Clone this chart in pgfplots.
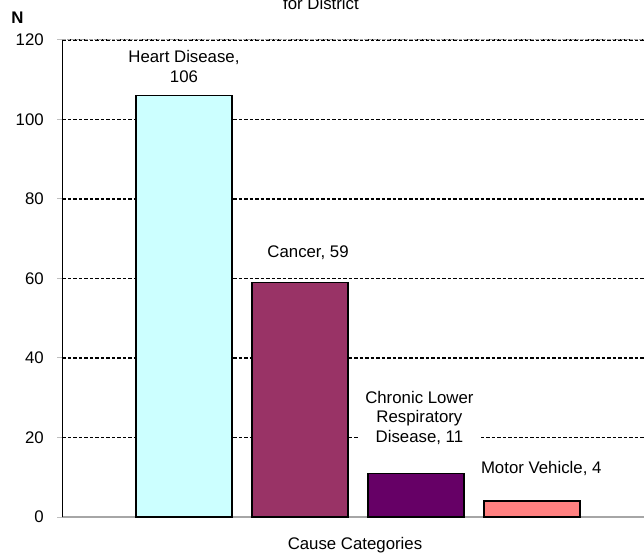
\documentclass[border=0pt]{standalone}
\usepackage{pgfplots}
\pgfplotsset{compat=1.18}
\usepackage{fontspec}
\setmainfont{Liberation Sans}
\definecolor{c1}{RGB}{204,255,255}
\definecolor{c2}{RGB}{153,51,102}
\definecolor{c3}{RGB}{102,0,102}
\definecolor{c4}{RGB}{255,128,128}
\newcommand{\lf}{\fontsize{16.8bp}{19.5bp}\selectfont}
\begin{document}
\lf
\begin{tikzpicture}
\begin{axis}[name=ax, at={(0,0)}, anchor=south west,
  scale only axis, width=581.5bp, height=477bp,
  xmin=-1.047, xmax=3.966, ymin=0, ymax=120,
  ytick={0,20,...,120}, xtick=\empty,
  axis lines*=left,
  x axis line style={draw=gray!70, line width=2bp},
  y axis line style={draw=black, line width=1.3bp},
  ymajorgrids, major grid style={black, line width=1.2bp, dash pattern=on 3.5bp off 2bp},
  tick align=outside, major tick length=5bp,
  ytick style={draw=gray!50, line width=1bp},
  /pgf/number format/assume math mode=true,
  tick label style={font=\lf},
  yticklabel style={xshift=-8bp},
  ybar, bar width=96bp, bar shift=0pt,
  every axis plot/.append style={draw=black, line width=1.5bp},
  clip=false,
]
\addplot[fill=c1] coordinates {(0,106)};
\addplot[fill=c2] coordinates {(1,59)};
\addplot[fill=c3] coordinates {(2,11)};
\addplot[fill=c4] coordinates {(3,4)};
\draw[gray!70, line width=1bp, dash pattern=on 3.5bp off 1bp] (rel axis cs:0,1) -- (rel axis cs:1,1);
\node[align=center, font=\lf] at (axis cs:0,113.3) {Heart Disease,\\106};
\node[align=center, font=\lf] at (axis cs:1.07,66.4) {Cancer, 59};
\node[align=center, font=\lf, fill=white, inner xsep=7bp, inner ysep=3bp] at (axis cs:2.03,25.0) {Chronic Lower\\Respiratory\\Disease, 11};
\node[align=center, font=\lf] at (axis cs:3.08,12.3) {Motor Vehicle, 4};
\end{axis}
\node[anchor=base, font=\lf] at ([shift={(258.5bp,507bp)}]ax.south west) {for District};
\node[font=\lf\bfseries] at ([shift={(-45bp,499.5bp)}]ax.south west) {N};
\node[font=\lf] at ([shift={(292.5bp,-28bp)}]ax.south west) {Cause Categories};
\pgfresetboundingbox
\path[use as bounding box] ([shift={(-62.5bp,-39bp)}]ax.south west) rectangle ([shift={(581.5bp,517bp)}]ax.south west);
\end{tikzpicture}
\end{document}
